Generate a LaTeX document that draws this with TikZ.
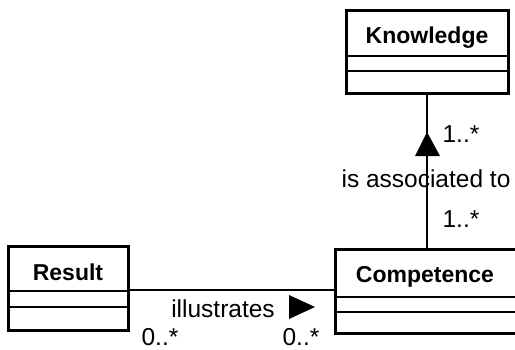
\documentclass[tikz,border=0pt]{standalone}
\usepackage{fontspec}
\setmainfont{Liberation Sans}
\begin{document}
\begin{tikzpicture}[x=1pt,y=-1pt,
  classbox/.style={draw=black,line width=3pt,rectangle,inner sep=0pt},
  sepline/.style={line width=1.6pt},
  assoc/.style={line width=1.6pt},
  title/.style={font=\fontsize{23}{23}\selectfont\bfseries,inner sep=0pt,anchor=base},
  lbl/.style={font=\fontsize{24.5}{24.5}\selectfont,inner sep=0pt,anchor=base}]
\useasboundingbox (0,0) rectangle (515,349);
\clip (0,0) rectangle (515,349);
% class boxes
\node[classbox,minimum width=162pt,minimum height=83pt] (Knowledge) at (427,51.5) {};
\node[classbox,minimum width=120pt,minimum height=84pt] (Result) at (68,288) {};
\node[classbox,minimum width=186pt,minimum height=84pt] (Competence) at (428,291) {};
% compartments
\draw[sepline] (Knowledge.west |- 0,56) -- (Knowledge.east |- 0,56);
\draw[sepline] (Knowledge.west |- 0,71) -- (Knowledge.east |- 0,71);
\draw[sepline] (Result.west |- 0,291) -- (Result.east |- 0,291);
\draw[sepline] (Result.west |- 0,307) -- (Result.east |- 0,307);
\draw[sepline] (Competence.west |- 0,297) -- (Competence.east |- 0,297);
\draw[sepline] (Competence.west |- 0,312) -- (Competence.east |- 0,312);
% titles
\node[title] (tK) at (427,43) {Knowledge};
\node[title] (tR) at (68,280) {Result};
\node[title] (tC) at (425,282) {Competence};
% associations
\draw[assoc] (Knowledge.south -| 427,0) -- (Competence.north -| 427,0);
\draw[assoc] (Result.east |- 0,290) -- (Competence.west |- 0,290);
% direction triangles
\fill (427,132) -- (440,156) -- (415,156) -- cycle;
\fill (289,295) -- (315,307) -- (289,319) -- cycle;
% labels
\node[lbl] (m1) at (461,142) {1..*};
\node[lbl] (n1) at (426,187) {is associated to};
\node[lbl] (m2) at (461,227) {1..*};
\node[lbl] (n2) at (223,317) {illustrates};
\node[lbl] (m3) at (160,345) {0..*};
\node[lbl] (m4) at (301,345) {0..*};
\end{tikzpicture}
\end{document}
